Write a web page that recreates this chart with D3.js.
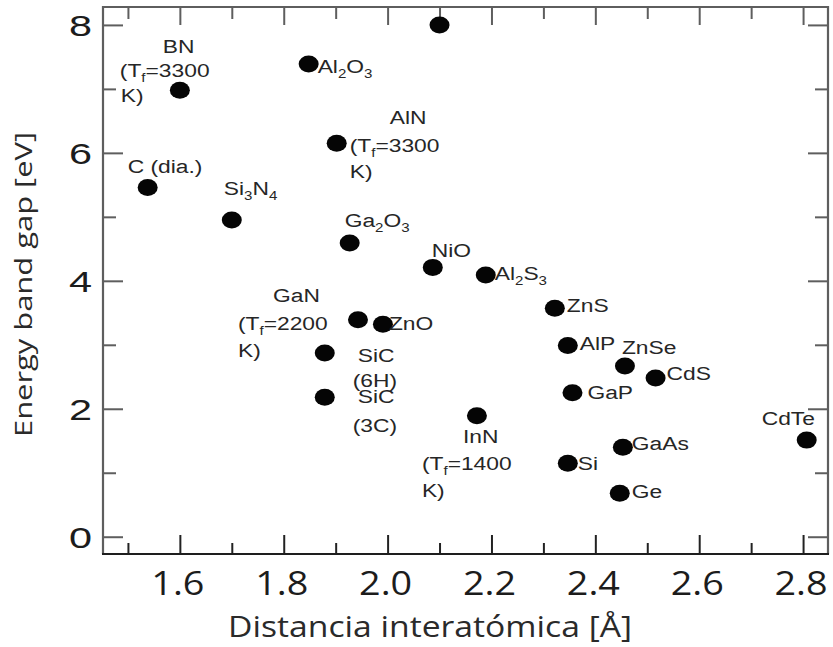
<!DOCTYPE html>
<html><head><meta charset="utf-8">
<script src="https://cdn.jsdelivr.net/npm/d3@7"></script>
<style>body{margin:0;background:#fff}svg{display:block}</style>
</head><body><svg id="c" width="833" height="647"></svg>
<script>
// ---------- DATA ----------
const materials = ["C (dia.)","BN","Si3N4","Al2O3","AlN","(unlabeled)","Ga2O3","NiO","Al2S3","ZnS","GaN","ZnO","SiC (6H)","SiC (3C)","AlP","ZnSe","CdS","GaP","InN","CdTe","GaAs","Si","Ge"];
const distances = [1.538,1.600,1.700,1.848,1.902,2.100,1.927,2.087,2.189,2.322,1.943,1.991,1.879,1.879,2.347,2.457,2.516,2.356,2.172,2.807,2.453,2.347,2.447];
const gaps      = [5.46,6.98,4.95,7.39,6.15,8.00,4.59,4.21,4.09,3.57,3.39,3.32,2.87,2.18,2.99,2.67,2.48,2.25,1.89,1.51,1.40,1.15,0.68];
const labelLines = [
  ["C (dia.)"],
  ["BN","(T_f=3300","K)"],
  ["Si_3N_4"],
  ["Al_2O_3"],
  ["AlN","(T_f=3300","K)"],
  [],
  ["Ga_2O_3"],
  ["NiO"],
  ["Al_2S_3"],
  ["ZnS"],
  ["GaN","(T_f=2200","K)"],
  ["ZnO"],
  ["SiC","(6H)"],
  ["SiC","(3C)"],
  ["AlP"],
  ["ZnSe"],
  ["CdS"],
  ["GaP"],
  ["InN","(T_f=1400","K)"],
  ["CdTe"],
  ["GaAs"],
  ["Si"],
  ["Ge"]
];
const xMajorTicks = [1.6,1.8,2.0,2.2,2.4,2.6,2.8];
const xTickLabels = ["1.6","1.8","2.0","2.2","2.4","2.6","2.8"];
const xMinorTicks = [1.5,1.7,1.9,2.1,2.3,2.5,2.7];
const yMajorTicks = [0,2,4,6,8];
const yTickLabels = ["0","2","4","6","8"];
const yMinorTicks = [1,3,5,7];
const xTitle = "Distancia interatómica [Å]";
const yTitle = "Energy band gap [eV]";

// ---------- LAYOUT (pixel offsets of label lines from their dot) ----------
const labelOffsets = [
  [[-20,-14]],
  [[-17,-37],[-60,-13],[-59,12]],
  [[-8,-25]],
  [[9,9]],
  [[53,-19],[13,9],[13,35]],
  [],
  [[-5,-16]],
  [[-1,-10]],
  [[9,5]],
  [[12,4]],
  [[-85,-18],[-120,10],[-120,37]],
  [[6,6]],
  [[33,9],[28,34]],
  [[33,6],[28,35]],
  [[12,5]],
  [[-3,-12]],
  [[11,2]],
  [[15,6]],
  [[-14,27],[-55,54],[-55,81]],
  [[-45,-15]],
  [[9,3]],
  [[10,7]],
  [[12,5]]
];

const svg = d3.select("#c");
const x = d3.scaleLinear().domain([1.452, 2.848]).range([103, 828]);
const y = d3.scaleLinear().domain([-0.27, 8.28]).range([554, 7]);
const L = 103, R = 828, T = 7, B = 554;
const frameCol = "#5e5e5e";

function styleAxis(g, col){
  g.select(".domain").remove();
  g.selectAll(".tick line").attr("stroke", col).attr("stroke-width", 2);
  g.selectAll(".tick text").remove();
}
// bottom
svg.append("g").attr("transform",`translate(0,${B})`)
  .call(d3.axisBottom(x).tickValues(xMajorTicks).tickSize(-19)).call(g=>styleAxis(g,"#222"));
svg.append("g").attr("transform",`translate(0,${B})`)
  .call(d3.axisBottom(x).tickValues(xMinorTicks).tickSize(-11)).call(g=>styleAxis(g,"#222"));
// top
svg.append("g").attr("transform",`translate(0,${T})`)
  .call(d3.axisTop(x).tickValues(xMajorTicks).tickSize(-18)).call(g=>styleAxis(g,frameCol));
svg.append("g").attr("transform",`translate(0,${T})`)
  .call(d3.axisTop(x).tickValues(xMinorTicks).tickSize(-12)).call(g=>styleAxis(g,frameCol));
// left
svg.append("g").attr("transform",`translate(${L},0)`)
  .call(d3.axisLeft(y).tickValues(yMajorTicks).tickSize(-20)).call(g=>styleAxis(g,frameCol));
svg.append("g").attr("transform",`translate(${L},0)`)
  .call(d3.axisLeft(y).tickValues(yMinorTicks).tickSize(-13)).call(g=>styleAxis(g,frameCol));
// right
svg.append("g").attr("transform",`translate(${R},0)`)
  .call(d3.axisRight(y).tickValues(yMajorTicks).tickSize(-20)).call(g=>styleAxis(g,frameCol));
svg.append("g").attr("transform",`translate(${R},0)`)
  .call(d3.axisRight(y).tickValues(yMinorTicks).tickSize(-13)).call(g=>styleAxis(g,frameCol));

// frame
svg.append("path").attr("d",`M${L},${B}V${T}H${R}V${B}`).attr("fill","none").attr("stroke",frameCol).attr("stroke-width",2.2);
svg.append("line").attr("x1",L-1).attr("x2",R+1).attr("y1",B).attr("y2",B).attr("stroke","#1e1e1e").attr("stroke-width",2);

// tick labels (stretched horizontally like the source)
xMajorTicks.forEach((v,i)=>{
  svg.append("g").attr("transform",`translate(${x(v)-2},595) scale(1.18,1)`)
    .append("text").attr("text-anchor","middle").attr("font-family","'Open Sans'")
    .attr("font-size",32).attr("fill","#1c1c1c").text(xTickLabels[i]);
});
yMajorTicks.forEach((v,i)=>{
  svg.append("g").attr("transform",`translate(92,${y(v)+11}) scale(1.38,1)`)
    .append("text").attr("text-anchor","end").attr("font-family","'Liberation Sans'")
    .attr("font-size",30).attr("fill","#1c1c1c").text(yTickLabels[i]);
});

// axis titles
svg.append("text").attr("x",228).attr("y",637).attr("font-family","'Open Sans'")
  .attr("font-size",29).attr("fill","#2a2a2a").attr("textLength",404).attr("lengthAdjust","spacingAndGlyphs").text(xTitle);
svg.append("text").attr("transform","translate(32,437) rotate(-90)").attr("font-family","'Open Sans'")
  .attr("font-size",24).attr("fill","#2a2a2a").attr("textLength",305).attr("lengthAdjust","spacingAndGlyphs").text(yTitle);

// dots
const pts = materials.map((m,i)=>({m, d:distances[i], g:gaps[i], i}));
svg.append("g").selectAll("ellipse").data(pts).join("ellipse")
  .attr("cx",p=>x(p.d)).attr("cy",p=>y(p.g)).attr("rx",10).attr("ry",8.5).attr("fill","#050505");

// labels with subscripts
function rich(textSel, str, fs){
  const parts = [];
  let buf = "";
  for (let k=0;k<str.length;k++){
    if (str[k]==="_" && k+1<str.length){ if(buf) parts.push({t:buf,sub:false}); buf=""; parts.push({t:str[k+1],sub:true}); k++; }
    else buf += str[k];
  }
  if (buf) parts.push({t:buf,sub:false});
  let shifted = false;
  parts.forEach(p=>{
    const ts = textSel.append("tspan").text(p.t);
    if (p.sub){ ts.attr("font-size",fs*0.66); if(!shifted){ts.attr("dy",5); shifted=true;} }
    else { if(shifted){ts.attr("dy",-5); shifted=false;} }
  });
}
const labG = svg.append("g");
pts.forEach(p=>{
  const lines = labelLines[p.i], offs = labelOffsets[p.i];
  lines.forEach((ln,j)=>{
    const t = labG.append("g").attr("transform",`translate(${x(p.d)+offs[j][0]},${y(p.g)+offs[j][1]}) scale(1.2,1)`)
      .append("text").attr("font-family","'Liberation Sans'").attr("font-size",19).attr("fill","#262626");
    rich(t, ln, 19);
  });
});
</script></body></html>
